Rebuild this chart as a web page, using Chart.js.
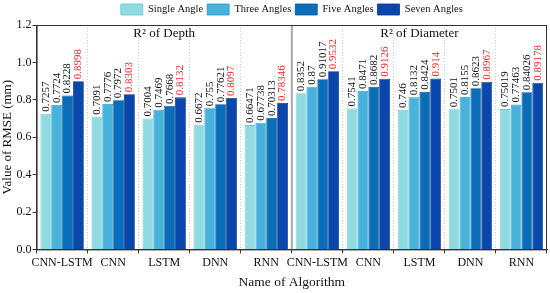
<!DOCTYPE html>
<html>
<head>
<meta charset="utf-8">
<script src="https://cdn.jsdelivr.net/npm/chart.js@4.4.0/dist/chart.umd.min.js"></script>
<style>
  html, body { margin:0; padding:0; background:#fff; }
  #wrap { width:550px; height:293px; position:relative; }
</style>
</head>
<body>
<div id="wrap"><canvas id="c"></canvas></div>
<script>
const algorithms = ["CNN-LSTM","CNN","LSTM","DNN","RNN","CNN-LSTM","CNN","LSTM","DNN","RNN"];
const seriesNames = ["Single Angle","Three Angles","Five Angles","Seven Angles"];
const singleAngle = [0.7257, 0.7091, 0.7004, 0.6672, 0.66471, 0.8352, 0.7541, 0.746, 0.7501, 0.75019];
const threeAngles = [0.7724, 0.7776, 0.7469, 0.755, 0.67738, 0.87, 0.8471, 0.8132, 0.8155, 0.77463];
const fiveAngles  = [0.8228, 0.7972, 0.7668, 0.77621, 0.70313, 0.91017, 0.8682, 0.8424, 0.8623, 0.84026];
const sevenAngles = [0.8998, 0.8303, 0.8132, 0.8097, 0.78346, 0.9532, 0.9126, 0.914, 0.8967, 0.89178];
const panelTitles = ["R\u00B2 of Depth", "R\u00B2 of Diameter"];
const yTicks = [0, 0.2, 0.4, 0.6, 0.8, 1.0, 1.2];

const fills   = ["#8edce2", "#47b3dd", "#0a6db7", "#0a47ad"];
const borders = ["#6fc4cc", "#2f98c6", "#075a9b", "#063790"];
const serif = "'Liberation Serif', 'Times New Roman', serif";
Chart.defaults.font.family = serif;
Chart.defaults.color = "#111";

// frame, middle separator, panel titles, value labels
const decor = {
  id: "decor",
  afterLayout(chart){
    // centre the legend over the plot area rather than the canvas
    const a = chart.chartArea, lg = chart.legend;
    const shift = (a.left + a.right)/2 - (lg.left + lg.right)/2;
    lg.left += shift; lg.right += shift;
  },
  afterDatasetsDraw(chart){
    const {ctx, chartArea:a, scales:{x}} = chart;
    ctx.save();
    // gray separator between the two panels
    const mid = (x.getPixelForValue(4) + x.getPixelForValue(5)) / 2;
    ctx.strokeStyle = "#a8a8a8"; ctx.lineWidth = 2;
    ctx.beginPath(); ctx.moveTo(mid, a.top); ctx.lineTo(mid, a.bottom); ctx.stroke();
    // frame
    ctx.strokeStyle = "#333"; ctx.lineWidth = 1;
    ctx.strokeRect(a.left+0.5, a.top+0.5, a.right-a.left-1, a.bottom-a.top);
    // titles
    ctx.fillStyle = "#111"; ctx.font = "13px " + serif;
    ctx.textAlign = "center"; ctx.textBaseline = "middle";
    ctx.fillText(panelTitles[0], (a.left + mid)/2, a.top + 9);
    ctx.fillText(panelTitles[1], (mid + a.right)/2, a.top + 9);
    // rotated value labels
    ctx.font = "11px " + serif;
    ctx.textAlign = "left";
    chart.data.datasets.forEach((ds, i) => {
      chart.getDatasetMeta(i).data.forEach((bar, j) => {
        ctx.save();
        ctx.translate(bar.x, bar.y - 2);
        ctx.rotate(-Math.PI/2);
        ctx.fillStyle = i === 3 ? "#ff2020" : "#111";
        ctx.fillText(String(ds.data[j]), 0, 0);
        ctx.restore();
      });
    });
    ctx.restore();
  }
};

new Chart(document.getElementById("c"), {
  type: "bar",
  data: {
    labels: algorithms,
    datasets: [singleAngle, threeAngles, fiveAngles, sevenAngles].map((d, i) => ({
      label: seriesNames[i], data: d,
      backgroundColor: fills[i], borderColor: borders[i], borderWidth: 0.8,
      categoryPercentage: 0.85, barPercentage: 1
    }))
  },
  options: {
    responsive: true, maintainAspectRatio: false, animation: false,
    layout: { padding: { top: 0, right: 3, left: 0, bottom: 2 } },
    plugins: {
      legend: {
        position: "top",
        labels: { boxWidth: 22, boxHeight: 11, padding: 4, color: "#111",
          font: { family: serif, size: 10.5 } }
      },
      tooltip: { enabled: false }
    },
    scales: {
      x: {
        grid: { offset: true, color: "#cfcfcf", lineWidth: 1, drawTicks: true,
          tickLength: 4, tickColor: "#333", tickBorderDash: [] },
        border: { display: true, color: "#333", dash: [1, 2] },
        ticks: { color: "#111", font: { family: serif, size: 12 }, padding: 2, maxRotation: 0, autoSkip: false },
        title: { display: true, text: "Name of Algorithm", color: "#111",
          font: { family: serif, size: 13.5 }, padding: { top: 3, bottom: 0 } }
      },
      y: {
        min: 0, max: 1.2,
        afterBuildTicks: s => { s.ticks = yTicks.map(v => ({ value: v })); },
        grid: { drawOnChartArea: false, tickLength: 4, tickColor: "#333" },
        border: { color: "#333" },
        ticks: { color: "#111", font: { family: serif, size: 12 }, padding: 1,
          callback: v => Number(v).toFixed(1) },
        title: { display: true, text: "Value of RMSE (mm)", color: "#111",
          font: { family: serif, size: 13 }, padding: { top: 0, bottom: 0 } }
      }
    }
  },
  plugins: [decor]
});
</script>
</body>
</html>
